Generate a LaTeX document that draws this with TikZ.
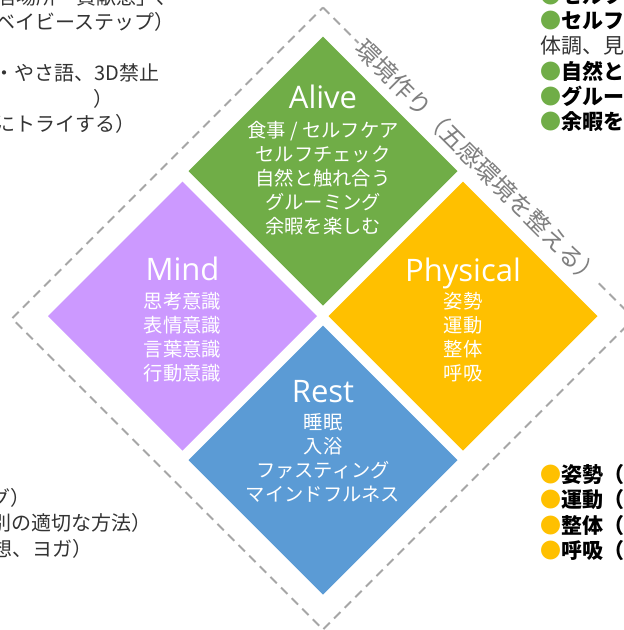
\documentclass[tikz,border=0pt]{standalone}
\usepackage{fontspec}
\setmainfont{Noto Sans CJK JP}
\newfontfamily\headfont{Open Sans}
\usetikzlibrary{shapes.geometric}

\definecolor{alivegreen}{HTML}{70AD47}
\definecolor{mindpurple}{HTML}{CC99FF}
\definecolor{physorange}{HTML}{FFC000}
\definecolor{restblue}{HTML}{5B9BD5}
\definecolor{framegray}{HTML}{A6A6A6}
\definecolor{notegray}{HTML}{7F7F7F}
\definecolor{textgray}{HTML}{333333}

\begin{document}
\begin{tikzpicture}[x=1pt,y=-1pt,
    petal/.style={diamond,minimum width=269pt,minimum height=269pt,inner sep=0pt,outer sep=0pt,fill=#1},
    headline/.style={font=\headfont\fontsize{31}{31}\selectfont,text=white,anchor=base,inner sep=0pt},
    petaltext/.style={font=\fontsize{19.3}{24}\selectfont,text=white,align=center,inner sep=0pt},
    sidenote/.style={font=\fontsize{20}{20}\selectfont,text=textgray,anchor=west,inner sep=0pt},
    rightnote/.style={sidenote,font=\fontsize{21}{21}\selectfont},
    bulletnote/.style={sidenote,font=\fontsize{21}{21}\selectfont\bfseries,text=black},
    envframe/.style={draw=framegray,line width=2pt,dash pattern=on 9pt off 6pt},
    envlabel/.style={font=\fontsize{24}{24}\selectfont,text=notegray,fill=white,rotate=-45,inner sep=2pt}]
      \useasboundingbox (0,0) rectangle (624,630);
      \clip (0,0) rectangle (624,630);
      % outer dashed frame
      \coordinate (ftop) at (323,7.5);
      \coordinate (fright) at (634,318.5);
      \coordinate (fbottom) at (323,629.5);
      \coordinate (fleft) at (12,318.5);
      \draw[envframe] (ftop) -- node[envlabel] (env) {環境作り（五感環境を整える）} (fright) -- (fbottom) -- (fleft) -- cycle;
      % four diamonds
      \node[petal=alivegreen] (alive) at (323,171) {};
      \node[petal=mindpurple] (mind) at (182.5,316) {};
      \node[petal=physorange] (physical) at (463,316) {};
      \node[petal=restblue] (rest) at (323,460) {};
      \node[headline] (alivehead) at (323,108) {Alive};
      \node[headline] (mindhead) at (182.5,280) {Mind};
      \node[headline] (physhead) at (463,281) {Physical};
      \node[headline] (resthead) at (323,402) {Rest};
      \node[petaltext] (alivelist) at (323,178) {食事 / セルフケア\\セルフチェック\\自然と触れ合う\\グルーミング\\余暇を楽しむ};
      \node[petaltext] (mindlist) at (182.5,337) {思考意識\\表情意識\\言葉意識\\行動意識};
      \node[petaltext] (physlist) at (463,337) {姿勢\\運動\\整体\\呼吸};
      \node[petaltext] (restlist) at (323,458) {睡眠\\入浴\\ファスティング\\マインドフルネス};
      % notes on the left
      \node[sidenote] (lnote1) at (-4,-3.5) {居場所・貢献感」、};
      \node[sidenote] (lnote2) at (-5,22) {ベイビーステップ）};
      \node[sidenote] (lnote3) at (-6,73) {・やさ語、3D禁止};
      \node[sidenote] (lnote4) at (93,98.5) {）};
      \node[sidenote] (lnote5) at (-5,124) {にトライする）};
      \node[sidenote] (lnote6) at (-10,497.5) {グ）};
      \node[sidenote] (lnote7) at (-9,523) {別の適切な方法）};
      \node[sidenote] (lnote8) at (-8,548.5) {想、ヨガ）};
      % notes on the right
      \node[bulletnote] (rnote1) at (540,-4) {\textcolor{alivegreen}{●}セルフケア};
      \node[bulletnote] (rnote2) at (540,21) {\textcolor{alivegreen}{●}セルフ};
      \node[rightnote] (rnote3) at (540,46) {体調、見};
      \node[bulletnote] (rnote4) at (540,71) {\textcolor{alivegreen}{●}自然と};
      \node[bulletnote] (rnote5) at (540,96.5) {\textcolor{alivegreen}{●}グルー};
      \node[bulletnote] (rnote6) at (540,122) {\textcolor{alivegreen}{●}余暇を};
      \node[bulletnote] (rnote7) at (540,474.5) {\textcolor{physorange}{●}姿勢（};
      \node[bulletnote] (rnote8) at (540,500) {\textcolor{physorange}{●}運動（};
      \node[bulletnote] (rnote9) at (540,525.5) {\textcolor{physorange}{●}整体（};
      \node[bulletnote] (rnote10) at (540,551) {\textcolor{physorange}{●}呼吸（};
\end{tikzpicture}
\end{document}
